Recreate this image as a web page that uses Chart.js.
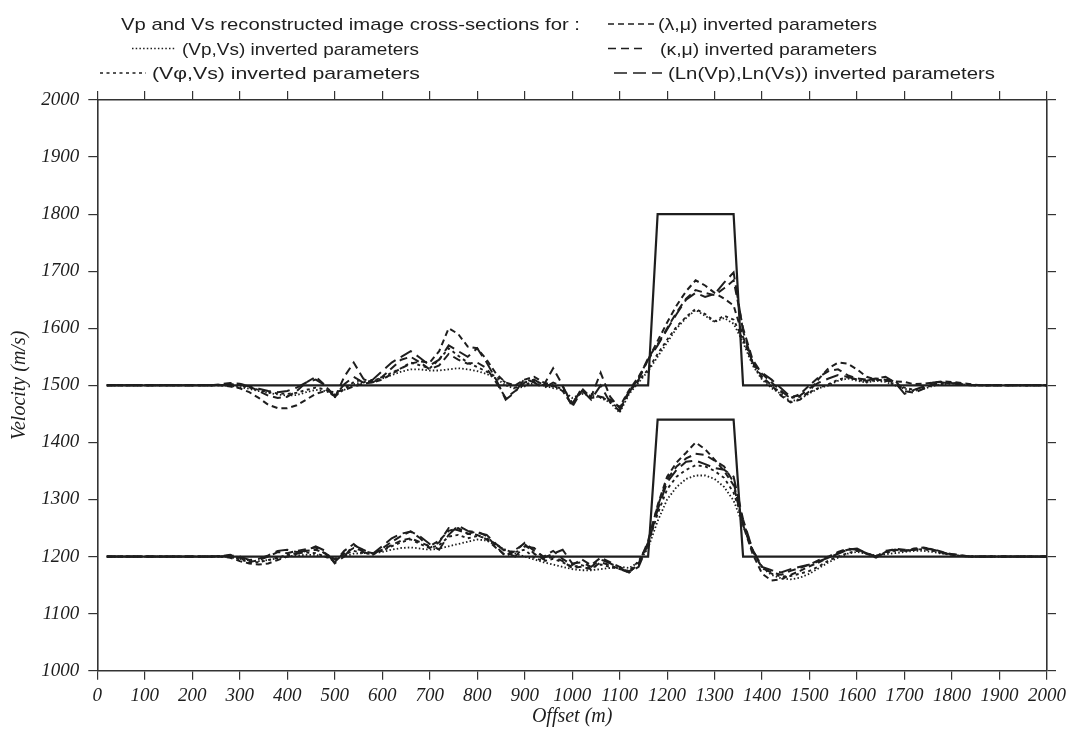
<!DOCTYPE html>
<html>
<head>
<meta charset="utf-8">
<script src="https://cdn.jsdelivr.net/npm/chart.js@4.4.1/dist/chart.umd.min.js"></script>
<style>
html,body{margin:0;padding:0;background:#fff;}
canvas{display:block;}
</style>
</head>
<body>
<canvas id="c" width="1071" height="733" style="width:1071px;height:733px"></canvas>
<script>
// ---------- DATA ----------
const trueOffsets = [20, 1160, 1180, 1340, 1360, 2000];
const trueVp = [1500, 1500, 1800, 1800, 1500, 1500];
const trueVs = [1200, 1200, 1440, 1440, 1200, 1200];

const offsets = [20,
 240,260,280,300,320,340,360,380,400,420,
 440,460,480,500,520,540,560,580,600,620,
 640,660,680,700,720,740,760,780,800,820,
 840,860,880,900,920,940,960,980,1000,1020,
 1040,1060,1080,1100,1120,1140,1160,1180,1200,1220,
 1240,1260,1280,1300,1320,1340,1360,1380,1400,1420,
 1440,1460,1480,1500,1520,1540,1560,1580,1600,1620,
 1640,1660,1680,1700,1720,1740,1760,1780,1800,1820,
 1840,1860,2000];

// Vp cross-sections
const vpVpVs = [1500,
 1500,1500,1499,1497,1494,1490,1487,1484,1482,1483,
 1488,1492,1490,1484,1492,1502,1506,1508,1512,1518,
 1524,1528,1528,1526,1526,1528,1530,1528,1525,1520,
 1512,1500,1494,1498,1504,1500,1495,1492,1478,1485,
 1482,1478,1470,1452,1485,1505,1525,1550,1575,1600,
 1618,1632,1622,1611,1618,1608,1575,1535,1510,1495,
 1485,1472,1476,1486,1495,1500,1508,1512,1508,1505,
 1508,1506,1500,1494,1490,1494,1499,1502,1503,1502,
 1500,1500,1500];
const vpVphiVs = [1500,
 1500,1501,1502,1500,1496,1492,1488,1486,1485,1487,
 1492,1496,1493,1480,1494,1506,1510,1508,1514,1522,
 1530,1540,1535,1530,1545,1565,1552,1540,1532,1524,
 1515,1505,1496,1500,1508,1502,1498,1494,1470,1488,
 1485,1480,1472,1458,1488,1508,1528,1555,1580,1603,
 1620,1634,1625,1612,1622,1615,1580,1538,1512,1498,
 1488,1478,1480,1488,1496,1502,1510,1514,1510,1506,
 1510,1508,1502,1496,1492,1496,1500,1503,1504,1502,
 1500,1500,1500];
const vpLambdaMu = [1500,
 1500,1500,1498,1495,1488,1478,1466,1460,1460,1465,
 1475,1485,1490,1488,1492,1498,1503,1505,1510,1520,
 1530,1538,1542,1540,1560,1600,1590,1568,1565,1545,
 1520,1505,1500,1510,1515,1505,1500,1490,1465,1495,
 1478,1480,1475,1462,1492,1515,1545,1578,1610,1640,
 1665,1684,1675,1662,1652,1640,1585,1540,1515,1500,
 1482,1470,1475,1490,1512,1530,1540,1538,1528,1515,
 1510,1508,1507,1506,1502,1503,1505,1507,1506,1504,
 1502,1500,1500];
const vpKappaMu = [1500,
 1500,1502,1504,1503,1498,1490,1482,1478,1480,1490,
 1505,1515,1500,1478,1515,1540,1512,1505,1515,1530,
 1545,1550,1540,1528,1535,1555,1545,1538,1540,1530,
 1505,1478,1490,1505,1510,1500,1530,1500,1462,1490,
 1480,1522,1480,1460,1490,1512,1548,1572,1600,1628,
 1652,1667,1662,1658,1670,1684,1600,1545,1520,1505,
 1490,1478,1485,1500,1515,1525,1528,1518,1512,1510,
 1512,1510,1508,1490,1487,1494,1502,1505,1503,1502,
 1500,1500,1500];
const vpLnLn = [1500,
 1500,1500,1501,1502,1498,1494,1490,1488,1490,1496,
 1505,1510,1500,1480,1502,1515,1505,1510,1525,1540,
 1550,1560,1548,1535,1545,1570,1560,1550,1565,1540,
 1510,1475,1488,1512,1505,1495,1505,1498,1468,1492,
 1475,1500,1470,1455,1488,1510,1545,1570,1598,1625,
 1650,1662,1655,1660,1680,1698,1595,1540,1522,1510,
 1495,1480,1482,1495,1505,1512,1518,1515,1510,1508,
 1512,1515,1505,1485,1492,1498,1505,1506,1504,1503,
 1501,1500,1500];

// Vs cross-sections
const vsVpVs = [1200,
 1200,1200,1199,1196,1193,1192,1194,1197,1200,1202,
 1203,1203,1200,1196,1200,1205,1206,1206,1208,1212,
 1215,1216,1214,1212,1214,1218,1222,1226,1230,1228,
 1220,1212,1205,1200,1195,1190,1186,1182,1178,1176,
 1176,1178,1180,1182,1180,1190,1215,1262,1300,1322,
 1336,1342,1342,1336,1322,1298,1255,1210,1180,1168,
 1162,1160,1163,1170,1180,1190,1198,1205,1208,1205,
 1202,1204,1206,1208,1210,1210,1208,1205,1203,1201,
 1200,1200,1200];
const vsVphiVs = [1200,
 1200,1201,1200,1195,1190,1190,1194,1198,1203,1206,
 1207,1206,1200,1192,1204,1210,1206,1204,1210,1218,
 1225,1230,1222,1215,1220,1235,1238,1232,1236,1232,
 1222,1210,1208,1212,1198,1192,1196,1190,1182,1185,
 1180,1186,1182,1178,1175,1192,1222,1275,1318,1340,
 1352,1360,1358,1350,1338,1312,1262,1212,1182,1170,
 1165,1166,1170,1175,1183,1193,1200,1206,1210,1206,
 1200,1206,1210,1210,1212,1213,1210,1206,1203,1201,
 1200,1200,1200];
const vsLambdaMu = [1200,
 1200,1200,1198,1192,1188,1186,1188,1194,1200,1205,
 1210,1212,1206,1195,1205,1215,1210,1206,1212,1220,
 1228,1232,1225,1218,1228,1245,1250,1240,1238,1230,
 1215,1202,1212,1222,1205,1195,1200,1192,1180,1182,
 1178,1190,1185,1178,1172,1188,1225,1290,1340,1365,
 1382,1400,1388,1370,1350,1325,1255,1205,1170,1158,
 1160,1168,1175,1183,1190,1198,1206,1212,1212,1205,
 1198,1208,1212,1210,1214,1216,1212,1207,1204,1202,
 1200,1200,1200];
const vsKappaMu = [1200,
 1200,1201,1203,1198,1190,1194,1200,1208,1206,1210,
 1213,1216,1205,1190,1210,1222,1208,1203,1214,1226,
 1236,1244,1232,1215,1225,1250,1246,1240,1244,1236,
 1218,1200,1210,1224,1210,1200,1210,1196,1185,1195,
 1185,1198,1190,1182,1174,1185,1228,1288,1335,1358,
 1372,1380,1378,1368,1358,1330,1255,1210,1180,1172,
 1168,1175,1180,1186,1194,1200,1208,1214,1212,1206,
 1200,1208,1214,1212,1212,1214,1213,1208,1204,1202,
 1200,1200,1200];
const vsLnLn = [1200,
 1200,1200,1202,1200,1194,1196,1202,1210,1212,1208,
 1210,1218,1210,1188,1200,1220,1212,1205,1218,1232,
 1240,1244,1235,1222,1212,1238,1254,1245,1242,1238,
 1222,1208,1200,1218,1215,1198,1205,1212,1188,1190,
 1182,1195,1188,1180,1172,1182,1222,1282,1330,1352,
 1366,1368,1362,1355,1352,1340,1265,1212,1182,1176,
 1172,1178,1182,1186,1192,1198,1205,1212,1214,1206,
 1200,1210,1212,1210,1212,1215,1212,1206,1204,1201,
 1200,1200,1200];

const xTicks = [0,100,200,300,400,500,600,700,800,900,1000,1100,1200,1300,1400,1500,1600,1700,1800,1900,2000];
const yTicks = [1000,1100,1200,1300,1400,1500,1600,1700,1800,1900,2000];

// ---------- STYLES ----------
const INK = '#1e1e1e';
const styles = {
  vpvs:   {dash:[1.5,2.2], w:1.8},
  vphivs: {dash:[3,3.5],   w:1.9},
  lammu:  {dash:[6,4],     w:2},
  kapmu:  {dash:[8,5],     w:2},
  lnln:   {dash:[13,6],    w:2}
};
function pts(xs, ys){ return xs.map((x,i)=>({x:x, y:ys[i]})); }
function ds(label, xs, ys, st){
  return {label, data: pts(xs, ys), showLine:true, borderColor:INK, borderWidth:st.w,
          borderDash:st.dash, pointRadius:0, fill:false, tension:0};
}
const datasets = [
  {label:'model Vp', data:pts(trueOffsets,trueVp), showLine:true, borderColor:INK, borderWidth:2.2, pointRadius:0, tension:0},
  {label:'model Vs', data:pts(trueOffsets,trueVs), showLine:true, borderColor:INK, borderWidth:2.2, pointRadius:0, tension:0},
  ds('Vp (Vp,Vs)', offsets, vpVpVs, styles.vpvs),
  ds('Vp (Vphi,Vs)', offsets, vpVphiVs, styles.vphivs),
  ds('Vp (lambda,mu)', offsets, vpLambdaMu, styles.lammu),
  ds('Vp (kappa,mu)', offsets, vpKappaMu, styles.kapmu),
  ds('Vp (Ln)', offsets, vpLnLn, styles.lnln),
  ds('Vs (Vp,Vs)', offsets, vsVpVs, styles.vpvs),
  ds('Vs (Vphi,Vs)', offsets, vsVphiVs, styles.vphivs),
  ds('Vs (lambda,mu)', offsets, vsLambdaMu, styles.lammu),
  ds('Vs (kappa,mu)', offsets, vsKappaMu, styles.kapmu),
  ds('Vs (Ln)', offsets, vsLnLn, styles.lnln)
];

const tickFont = {family:'"Liberation Serif", "DejaVu Serif", serif', size:19, style:'italic'};
const gridOpts = {drawOnChartArea:false, tickLength:9, color:'#333', lineWidth:1.2};
const borderOpts = {display:true, color:'#333', width:1.6};

const legendItems = [
  {text:'(Vp,Vs) inverted parameters', st:styles.vpvs, sx0:132, sx1:175, tx:182, tw:237, base:54.5},
  {text:'(Vφ,Vs) inverted parameters', st:styles.vphivs, sx0:100, sx1:146, tx:152, tw:268, base:79},
  {text:'(λ,μ) inverted parameters', st:styles.lammu, sx0:608, sx1:654, tx:658, tw:219, base:30},
  {text:'(κ,μ) inverted parameters', st:styles.kapmu, sx0:608, sx1:645, tx:660, tw:217, base:54.5},
  {text:'(Ln(Vp),Ln(Vs)) inverted parameters', st:styles.lnln, sx0:614, sx1:662, tx:668, tw:327, base:79}
];
const legendTitle = {text:'Vp and Vs reconstructed image cross-sections for :', x:121, w:459, base:30};

function fitText(ctx, text, x, base, w){
  const m = ctx.measureText(text).width;
  ctx.save();
  ctx.translate(x, base);
  ctx.scale(w / m, 1);
  ctx.fillText(text, 0, 0);
  ctx.restore();
}

const decor = {
  id:'decor',
  afterDraw(chart){
    const ctx = chart.ctx;
    const ca = chart.chartArea;
    ctx.save();
    ctx.fillStyle = INK;
    ctx.strokeStyle = INK;
    ctx.textBaseline = 'alphabetic';
    ctx.textAlign = 'left';
    ctx.font = '17px "Liberation Sans", Arial, sans-serif';
    fitText(ctx, legendTitle.text, legendTitle.x, legendTitle.base, legendTitle.w);
    legendItems.forEach(it=>{
      ctx.font = '17px "Liberation Sans", Arial, sans-serif';
      fitText(ctx, it.text, it.tx, it.base, it.tw);
      ctx.beginPath();
      ctx.setLineDash(it.st.dash);
      ctx.lineWidth = it.st.w*0.75;
      const yy = it.base - 6;
      ctx.moveTo(it.sx0, yy);
      ctx.lineTo(it.sx1, yy);
      ctx.stroke();
    });
    ctx.setLineDash([]);
    // axis titles
    ctx.font = 'italic 20px "Liberation Serif", serif';
    ctx.textAlign = 'center';
    ctx.textBaseline = 'middle';
    ctx.fillText('Offset (m)', (ca.left+ca.right)/2, 717);
    ctx.save();
    ctx.translate(20, (ca.top+ca.bottom)/2);
    ctx.rotate(-Math.PI/2);
    ctx.fillText('Velocity (m/s)', 0, 0);
    ctx.restore();
    ctx.restore();
  }
};

const plainLabel = v => String(v);

new Chart(document.getElementById('c'), {
  type:'scatter',
  data:{datasets},
  options:{
    responsive:false, animation:false, devicePixelRatio:1,
    layout:{padding:0},
    plugins:{legend:{display:false}, tooltip:{enabled:false}, title:{display:false}},
    scales:{
      x:{type:'linear', position:'bottom', min:0, max:2000,
         afterBuildTicks(s){ s.ticks = xTicks.map(v=>({value:v})); },
         ticks:{font:tickFont, color:INK, padding:5, maxRotation:0, autoSkip:false, callback:plainLabel},
         grid:gridOpts, border:borderOpts,
         afterFit(s){ s.height = 62.3; }},
      y:{type:'linear', position:'left', min:1000, max:2000,
         afterBuildTicks(s){ s.ticks = yTicks.map(v=>({value:v})); },
         ticks:{font:tickFont, color:INK, padding:9, callback:plainLabel},
         grid:gridOpts, border:borderOpts,
         afterFit(s){ s.width = 97.3; }},
      x2:{type:'linear', position:'top', min:0, max:2000, display:true,
         afterBuildTicks(s){ s.ticks = xTicks.map(v=>({value:v})); },
         ticks:{display:false},
         grid:gridOpts, border:borderOpts,
         afterFit(s){ s.height = 100; }},
      y2:{type:'linear', position:'right', min:1000, max:2000, display:true,
         afterBuildTicks(s){ s.ticks = yTicks.map(v=>({value:v})); },
         ticks:{display:false},
         grid:gridOpts, border:borderOpts,
         afterFit(s){ s.width = 23; }}
    }
  },
  plugins:[decor]
});
</script>
</body>
</html>
